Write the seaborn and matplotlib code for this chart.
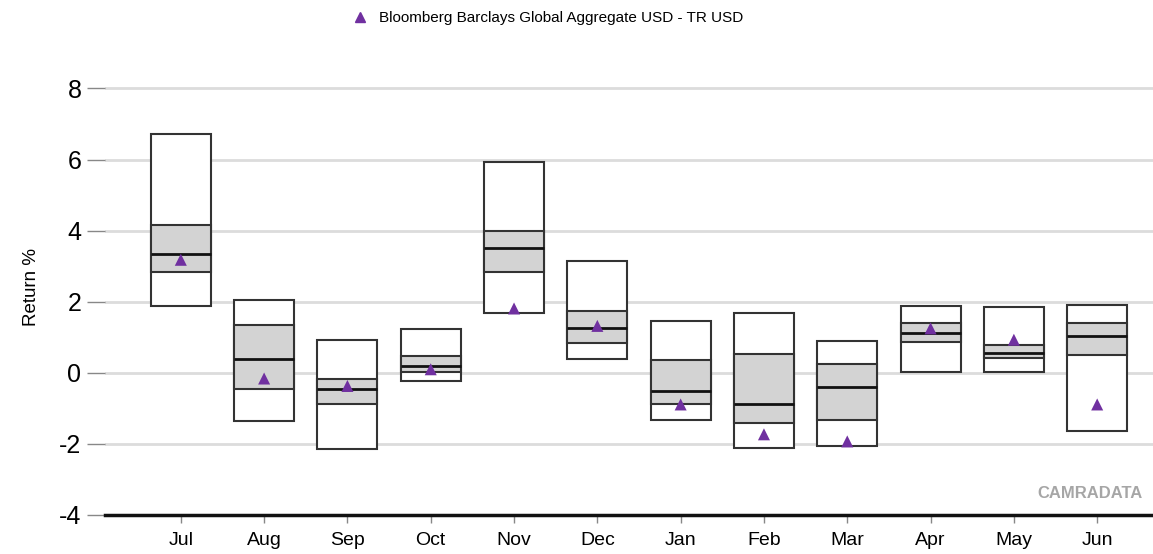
import numpy as np
import pandas as pd
import matplotlib
matplotlib.use("Agg")
import matplotlib.pyplot as plt
import seaborn as sns

months = ["Jul", "Aug", "Sep", "Oct", "Nov", "Dec", "Jan", "Feb", "Mar", "Apr", "May", "Jun"]
low = [1.89, -1.35, -2.15, -0.23, 1.69, 0.40, -1.34, -2.11, -2.06, 0.01, 0.01, -1.65]
q1 = [2.85, -0.46, -0.87, 0.03, 2.85, 0.84, -0.87, -1.42, -1.32, 0.87, 0.41, 0.50]
median = [3.34, 0.40, -0.45, 0.18, 3.52, 1.27, -0.52, -0.88, -0.40, 1.13, 0.55, 1.03]
q3 = [4.15, 1.35, -0.18, 0.48, 4.00, 1.74, 0.37, 0.54, 0.24, 1.39, 0.78, 1.39]
high = [6.73, 2.04, 0.91, 1.22, 5.93, 3.15, 1.47, 1.67, 0.90, 1.87, 1.85, 1.91]
benchmark = [3.18, -0.16, -0.37, 0.10, 1.81, 1.32, -0.89, -1.73, -1.93, 1.25, 0.93, -0.89]
bench_name = "Bloomberg Barclays Global Aggregate USD - TR USD"
yticks = [-4, -2, 0, 2, 4, 6, 8]

sns.set_style("white")
plt.rcParams['font.family'] = ['Liberation Sans', 'DejaVu Sans']
plt.rcParams['text.color'] = 'black'
plt.rcParams['axes.labelcolor'] = 'black'
plt.rcParams['xtick.color'] = 'black'
plt.rcParams['ytick.color'] = 'black'

df = pd.DataFrame({"month": months, "low": low, "q1": q1, "median": median,
                   "q3": q3, "high": high, "bench": benchmark})
df["pos"] = np.arange(len(df))

fig = plt.figure(figsize=(11.53, 5.54), dpi=100)
ax = fig.add_axes([105 / 1153, 39 / 554, 1 - 105 / 1153, (515 - 60) / 554])

w = 0.72
edge = "#333333"
ax.bar(df["pos"], df["high"] - df["low"], bottom=df["low"], width=w,
       color="white", edgecolor=edge, linewidth=1.5, zorder=2)
ax.bar(df["pos"], df["q3"] - df["q1"], bottom=df["q1"], width=w,
       color="#d3d3d3", edgecolor=edge, linewidth=1.5, zorder=3)
ax.hlines(df["median"], df["pos"] - w / 2, df["pos"] + w / 2,
          colors="#111111", linewidth=2.0, zorder=4)

sns.scatterplot(data=df, x="pos", y="bench", marker="^", s=75, color="#7030a0",
                edgecolor="none", ax=ax, zorder=5, legend=False)

ax.set_xlim(-0.91, 11.67)
ax.set_ylim(-4, 8.8)
ax.set_yticks(yticks)
ax.set_yticklabels([str(v) for v in yticks], fontsize=18)
ax.set_xticks(df["pos"])
ax.set_xticklabels(months, fontsize=14)
ax.set_xlabel("")
ax.set_ylabel("Return %", fontsize=13.5, labelpad=14)

ax.yaxis.grid(True, color="#dcdcdc", linewidth=2, zorder=0)
ax.set_axisbelow(True)
for s in ["top", "right", "left"]:
    ax.spines[s].set_visible(False)
ax.spines["bottom"].set_color("#111111")
ax.spines["bottom"].set_linewidth(2.5)
ax.tick_params(axis="y", which="both", left=True, length=13, width=1, color="#888888", pad=4)
ax.tick_params(axis="x", which="both", bottom=True, length=6, width=1, color="#888888", pad=6)

handles = [plt.Line2D([], [], marker="^", linestyle="none", color="#7030a0", markersize=7)]
fig.legend(handles, [bench_name], loc="center", bbox_to_anchor=(547 / 1153, 1 - 18 / 554),
           frameon=False, fontsize=11, handletextpad=0.6, handlelength=1.2)

fig.text(1143 / 1153, 1 - 493 / 554, "CAMRADATA", ha="right", va="center",
         fontsize=12, fontweight="bold", color="#a6a6a6")

fig.savefig("out.png", dpi=100)
